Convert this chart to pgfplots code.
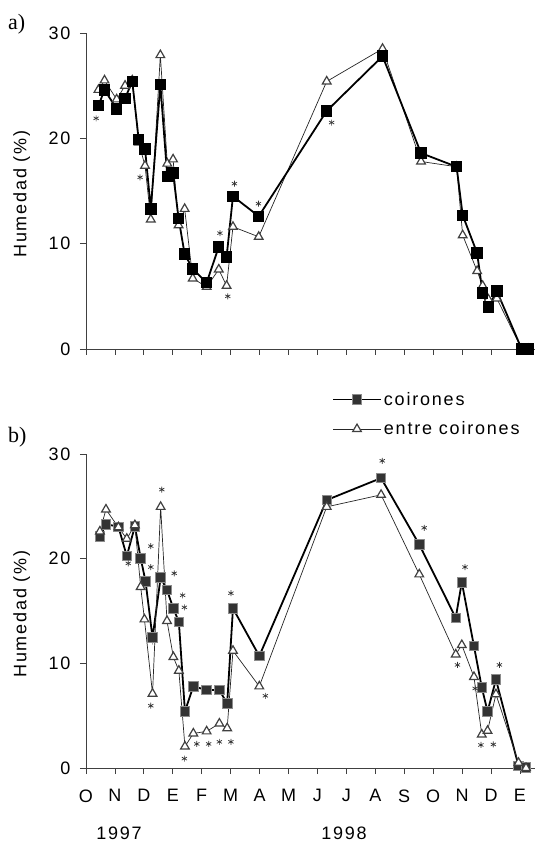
\documentclass[border=0pt]{standalone}
\usepackage{fontspec}
\setmainfont{Liberation Sans}[LetterSpace=10]
\newfontfamily\serif{Liberation Serif}
\usepackage{pgfplots}
\pgfplotsset{compat=1.18}

\pgfplotsset{
  hum/.style={
    scale only axis, width=449pt,
    xmin=0, xmax=15.52, ymin=0, ymax=30,
    axis x line=bottom, axis y line=left,
    axis line style={-, line width=0.8pt, black!75},
    tick align=outside, major tick length=6pt,
    tick style={line width=0.8pt, black!75},
    xtick={0,...,15}, ytick={0,10,20,30}, yticklabels={0,10,20,30},
    yticklabel style={xshift=-6pt},
    xticklabel style={yshift=-12pt},
    clip=false,
    font=\fontsize{18}{21}\selectfont,
    ylabel={Humedad (\%)},
    every axis y label/.style={at={(axis description cs:-0.143,0.49)}, rotate=90, anchor=center},
  },
  longleg/.style={legend image code/.code={%
    \draw[mark repeat=2,mark phase=2,##1] plot coordinates {(0pt,0pt) (24pt,0pt) (48pt,0pt)};}},
  coir/.style={black, line width=1.8pt, mark=square*, mark size=4.8pt, longleg},
  entre/.style={black!85, line width=0.7pt, mark=triangle*, mark size=5pt,
    mark options={fill=white, draw=black!75, line width=1.2pt}, longleg},
  sig/.style={only marks, mark=asterisk, mark size=3pt, black!80, line width=0.7pt, forget plot},
}

\begin{document}
\begin{tikzpicture}[x=1pt,y=1pt]
\path[use as bounding box] (0,0) rectangle (538,843);

% a)
\begin{axis}[hum, height=316pt, at={(86pt,494pt)}, anchor=south west, xticklabels={}]
\addplot[entre] coordinates {
  (0.43,24.6) (0.64,25.5) (1.06,23.7) (1.35,25.0) (1.60,25.5) (1.82,19.6) (2.04,17.4)
  (2.24,12.3) (2.57,27.9) (2.81,17.6) (3.01,18.0) (3.20,11.75) (3.41,13.3) (3.69,6.7)
  (4.17,5.9) (4.59,7.55) (4.86,6.0) (5.08,11.6) (5.97,10.65) (8.32,25.4) (10.25,28.5)
  (11.58,17.8) (12.81,17.3) (13.02,10.8) (13.52,7.4) (13.71,6.0) (13.91,4.7) (14.20,4.8)
  (15.06,0) (15.29,0)};
\addplot[coir] coordinates {
  (0.43,23.1) (0.64,24.6) (1.06,22.8) (1.35,23.8) (1.60,25.4) (1.82,19.9) (2.04,19.0)
  (2.24,13.3) (2.57,25.1) (2.81,16.4) (3.01,16.7) (3.20,12.4) (3.41,9.0) (3.69,7.6)
  (4.17,6.3) (4.59,9.7) (4.86,8.75) (5.08,14.5) (5.97,12.6) (8.32,22.6) (10.25,27.8)
  (11.58,18.6) (12.81,17.3) (13.02,12.7) (13.52,9.1) (13.71,5.3) (13.91,4.0) (14.20,5.5)
  (15.06,0) (15.29,0)};
\addplot[sig] coordinates {
  (0.35,21.9) (1.87,16.3) (4.63,11.0) (4.90,5.0) (5.13,15.7) (5.96,13.8) (8.49,21.5)};
\end{axis}

% b)
\begin{axis}[hum, height=314pt, at={(86pt,75pt)}, anchor=south west,
  xticklabels={O,N,D,E,F,M,A,M,J,J,A,S,O,N,D,E},
  legend style={at={(axis description cs:0.541,1.21)}, anchor=north west,
    draw=none, fill=none, font=\fontsize{18}{21}\selectfont, row sep=11pt},
  legend cell align=left]
\addplot[coir, mark options={fill=black!80, draw=black!45, line width=0.8pt}] coordinates {
  (0.48,22.1) (0.69,23.3) (1.12,23.05) (1.41,20.25) (1.69,23.1) (1.89,20.05) (2.06,17.8)
  (2.30,12.45) (2.58,18.2) (2.80,17.0) (3.02,15.25) (3.21,13.95) (3.42,5.4) (3.71,7.8)
  (4.17,7.45) (4.61,7.45) (4.88,6.15) (5.08,15.25) (5.99,10.7) (8.32,25.6) (10.20,27.7)
  (11.52,21.35) (12.78,14.35) (12.99,17.75) (13.41,11.65) (13.68,7.7) (13.88,5.4) (14.17,8.45)
  (14.95,0.2) (15.21,0.05)};
\addlegendentry{coirones}
\addplot[entre] coordinates {
  (0.48,22.6) (0.69,24.7) (1.12,23.0) (1.41,21.9) (1.69,23.2) (1.89,17.3) (2.02,14.2)
  (2.30,7.1) (2.58,24.95) (2.80,14.05) (3.02,10.6) (3.21,9.3) (3.42,2.05) (3.71,3.3)
  (4.17,3.5) (4.61,4.25) (4.88,3.8) (5.08,11.2) (5.99,7.8) (8.32,24.95) (10.20,26.1)
  (11.52,18.5) (12.78,10.85) (12.99,11.75) (13.41,8.7) (13.68,3.2) (13.88,3.55) (14.17,7.05)
  (14.95,0.5) (15.21,0.0)};
\addlegendentry{entre coirones}
\addplot[sig] coordinates {
  (1.46,19.55) (2.24,21.2) (2.24,19.2) (2.24,5.95) (2.62,26.6) (3.05,18.6) (3.34,16.5)
  (3.40,15.35) (3.40,0.9) (3.83,2.3) (4.24,2.3) (4.61,2.5) (5.01,2.5) (5.01,16.7)
  (6.2,6.9) (10.24,29.35) (11.69,22.95) (13.1,19.2) (12.84,9.85) (13.45,7.6)
  (14.29,9.85) (13.65,2.2) (14.08,2.25)};
\end{axis}

\node[font=\serif\fontsize{22}{24}\selectfont, anchor=base west, inner sep=0pt] at (8,813) {a)};
\node[font=\serif\fontsize{22}{24}\selectfont, anchor=base west, inner sep=0pt] at (8,400) {b)};
\node[font=\fontsize{18}{21}\selectfont, anchor=base, inner sep=0pt] at (119,3) {1997};
\node[font=\fontsize{18}{21}\selectfont, anchor=base, inner sep=0pt] at (344,3) {1998};
\end{tikzpicture}
\end{document}
